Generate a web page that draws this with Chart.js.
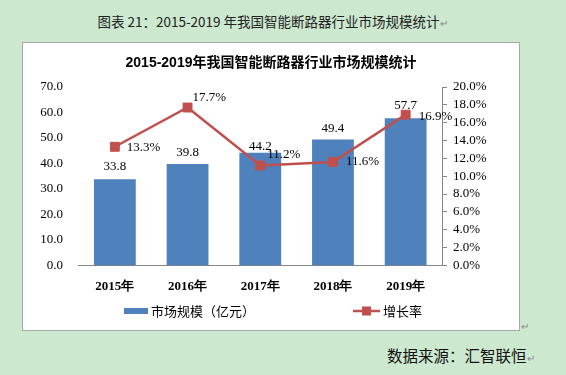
<!DOCTYPE html>
<html>
<head>
<meta charset="utf-8">
<script src="https://cdn.jsdelivr.net/npm/chart.js@4"></script>
<style>
  html, body { margin: 0; padding: 0; }
  body { width: 566px; height: 375px; background: #cce8cf; position: relative; overflow: hidden;
         font-family: "Noto Sans CJK SC", "Liberation Sans", sans-serif; }
  #caption { position: absolute; left: 0; width: 545px; top: 11px; text-align: center;
             font-size: 13.5px; color: #222; white-space: nowrap; }
  #box { position: absolute; left: 22px; top: 42px; width: 496px; height: 287px;
         background: #fff; border: 1px solid #a8a8a8; }
  #source { position: absolute; left: 387px; top: 344px; font-size: 15.5px; color: #111; white-space: nowrap; }
  #mark { position: absolute; left: 521px; top: 318px; font-size: 10px; color: #888; }
  .ret { color: #888; font-size: 10px; }
</style>
</head>
<body>
<div id="caption">图表 21：2015-2019 年我国智能断路器行业市场规模统计<span class="ret">↵</span></div>
<div id="box"><canvas id="chart" width="496" height="287"></canvas></div>
<div id="mark">↵</div>
<div id="source">数据来源：汇智联恒<span class="ret">↵</span></div>

<script>
// Data
const years = ['2015年', '2016年', '2017年', '2018年', '2019年'];
const marketSize = [33.8, 39.8, 44.2, 49.4, 57.7];   // 亿元
const growthRate = [13.3, 17.7, 11.2, 11.6, 16.9];   // %
const leftTicks = [0, 10, 20, 30, 40, 50, 60, 70];
const rightTicks = [0, 2, 4, 6, 8, 10, 12, 14, 16, 18, 20];

const BLUE = '#4f81bd';
const RED = '#c0504d';
const GREY = '#868686';
const SERIF = '"Liberation Serif", "Times New Roman", serif';

// Label nudges (px), like Excel placed them
const barLabelGap = [13, 11, 6, 11, 13];
const lineLabelShift = [[12, 1], [5, -10], [7, -11], [13, 0], [13, 2]];

// Plugin: data labels + legend
const labelPlugin = {
    id: 'labels',
    afterDatasetsDraw(chart) {
        const ctx = chart.ctx;
        ctx.save();
        ctx.font = '13px ' + SERIF;
        ctx.fillStyle = '#000';
        ctx.textBaseline = 'middle';

        // label batang
        const barMeta = chart.getDatasetMeta(0);
        ctx.textAlign = 'center';
        barMeta.data.forEach((el, i) => {
            ctx.fillText(marketSize[i].toFixed(1), el.x, el.y - barLabelGap[i]);
        });

        // label garis
        const lineMeta = chart.getDatasetMeta(1);
        ctx.textAlign = 'left';
        lineMeta.data.forEach((el, i) => {
            const s = lineLabelShift[i];
            ctx.fillText(growthRate[i].toFixed(1) + '%', el.x + s[0], el.y + s[1]);
        });
        ctx.restore();
    },
    afterDraw(chart) {
        // legenda di bawah
        const ctx = chart.ctx;
        const y = 268;
        ctx.save();
        ctx.font = '13px "Noto Sans CJK SC", sans-serif';
        ctx.fillStyle = '#000';
        ctx.textBaseline = 'middle';
        ctx.textAlign = 'left';

        ctx.fillStyle = BLUE;
        ctx.fillRect(101, y - 3, 24, 6);
        ctx.fillStyle = '#000';
        ctx.fillText(chart.data.datasets[0].label, 128, y);

        ctx.strokeStyle = RED;
        ctx.lineWidth = 2.5;
        ctx.beginPath();
        ctx.moveTo(330, y);
        ctx.lineTo(357, y);
        ctx.stroke();
        ctx.fillStyle = RED;
        ctx.fillRect(339, y - 4.5, 9, 9);
        ctx.fillStyle = '#000';
        ctx.fillText(chart.data.datasets[1].label, 360, y);
        ctx.restore();
    }
};

const ctx = document.getElementById('chart').getContext('2d');
new Chart(ctx, {
    data: {
        labels: years,
        datasets: [{
            type: 'bar',
            label: '市场规模（亿元）',
            data: marketSize,
            backgroundColor: BLUE,
            borderWidth: 0,
            barPercentage: 0.575,
            categoryPercentage: 1,
            yAxisID: 'y',
            order: 2
        }, {
            type: 'line',
            label: '增长率',
            data: growthRate,
            borderColor: RED,
            borderWidth: 2.5,
            backgroundColor: RED,
            pointStyle: 'rect',
            pointRadius: 6.3,
            pointBorderWidth: 1,
            pointBackgroundColor: RED,
            pointBorderColor: RED,
            tension: 0,
            yAxisID: 'y1',
            order: 1
        }]
    },
    options: {
        responsive: false,
        animation: false,
        layout: { padding: { left: 0, right: 0, top: 0, bottom: 23 } },
        plugins: {
            legend: { display: false },
            tooltip: { enabled: false },
            title: {
                display: true,
                text: '2015-2019年我国智能断路器行业市场规模统计',
                color: '#000',
                font: { size: 14, weight: 'bold', family: '"Liberation Sans", "Noto Sans CJK SC", sans-serif', lineHeight: 1.2 },
                padding: { top: 11.6, bottom: 15.6 }
            }
        },
        scales: {
            x: {
                grid: { display: false, drawTicks: false },
                border: { display: true, color: GREY, width: 1 },
                ticks: { color: '#000', padding: 13, font: { size: 13, weight: 'bold', family: SERIF } }
            },
            y: {
                position: 'left',
                min: 0, max: 70,
                afterBuildTicks: s => { s.ticks = leftTicks.map(v => ({ value: v })); },
                afterFit: s => { s.width = 55.5; },
                grid: { display: false, drawTicks: false },
                border: { display: false },
                ticks: { color: '#000', padding: 15.5, autoSkip: false, font: { size: 13, family: SERIF },
                         callback: v => v.toFixed(1) }
            },
            y1: {
                position: 'right',
                min: 0, max: 20,
                afterBuildTicks: s => { s.ticks = rightTicks.map(v => ({ value: v })); },
                afterFit: s => { s.width = 77; },
                grid: { display: true, drawOnChartArea: false, drawTicks: true, tickLength: 5, color: GREY },
                border: { display: true, color: GREY, width: 1 },
                ticks: { color: '#000', padding: 6, autoSkip: false, font: { size: 13, family: SERIF },
                         callback: v => v.toFixed(1) + '%' }
            }
        }
    },
    plugins: [labelPlugin]
});
</script>
</body>
</html>
